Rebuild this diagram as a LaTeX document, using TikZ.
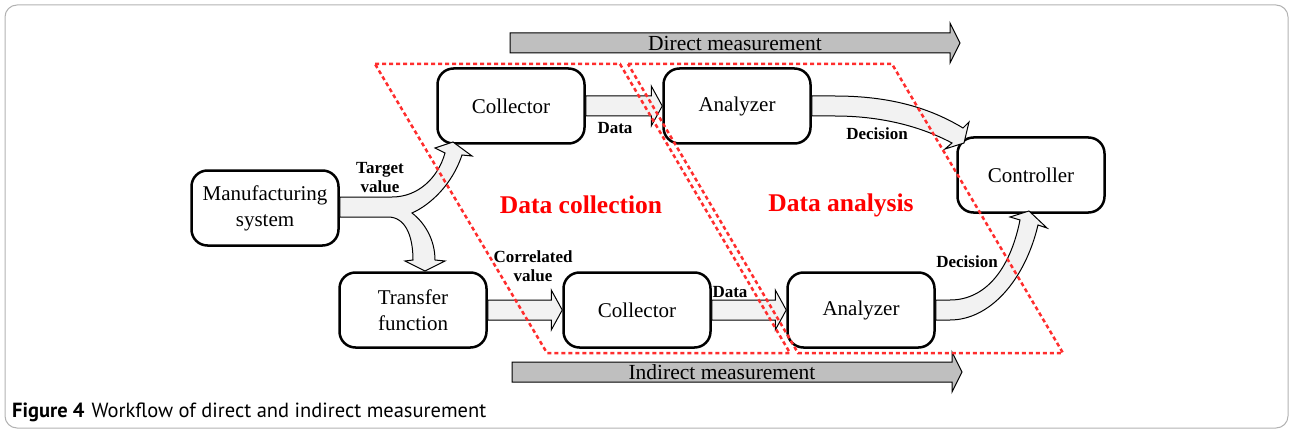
\documentclass[tikz,border=0pt]{standalone}
\usepackage{fontspec}
\setmainfont{Liberation Serif}
\newfontfamily\capfont{PT Sans}
\usetikzlibrary{calc}
\definecolor{dred}{RGB}{255,45,45}
\definecolor{afill}{RGB}{242,242,242}
\definecolor{mgray}{RGB}{191,191,191}
\tikzset{
  box/.style={draw, line width=2.5pt, rounded corners=16pt, minimum width=147pt, minimum height=75pt, align=center, font=\fontsize{21}{26}\selectfont, inner sep=0pt},
  barrow/.style={draw, line width=1pt, fill=afill, line join=miter},
  garrow/.style={draw, line width=1pt, fill=mgray},
  lab/.style={font=\bfseries\fontsize{17}{19}\selectfont, align=center, inner sep=0pt},
  zone/.style={draw=dred, line width=2.5pt, dash pattern=on 4pt off 3pt},
  zlab/.style={text=red, font=\bfseries\fontsize{25.5}{28}\selectfont, inner sep=0pt},
  mlab/.style={font=\fontsize{21.5}{23}\selectfont, inner sep=0pt}
}
\begin{document}
\begin{tikzpicture}[x=1pt,y=-1pt]
\useasboundingbox (0,0) rectangle (1290,433);
\draw[gray!60, line width=1pt, rounded corners=12pt] (5,5) rectangle (1288,428);

% measurement arrows
\draw[garrow] (510,33) -- (950,33) -- (950,23) -- (960,43) -- (950,63) -- (950,53) -- (510,53) -- cycle;
\node[mlab] (dm) at (735,43) {Direct measurement};
\draw[garrow] (512,362) -- (952,362) -- (952,352) -- (962,372) -- (952,392) -- (952,382) -- (512,382) -- cycle;
\node[mlab] (im) at (722,372) {Indirect measurement};

% boxes
\node[box] (m) at (265,208) {Manufacturing\\system};
\node[box] (c1) at (511,106) {Collector};
\node[box] (a1) at (737,106) {Analyzer};
\node[box] (ct) at (1031,175) {Controller};
\node[box] (tf) at (413,310) {Transfer\\function};
\node[box] (c2) at (637,310) {Collector};
\node[box] (a2) at (861,310) {Analyzer};

% straight block arrows
\draw[barrow] ($(c1.east)+(0,-10)$) -- ($(a1.west)+(-11,-10)$) -- ($(a1.west)+(-11,-20)$) -- (a1.west) -- ($(a1.west)+(-11,20)$) -- ($(a1.west)+(-11,10)$) -- ($(c1.east)+(0,10)$) -- cycle;
\draw[barrow] ($(tf.east)+(0,-10)$) -- ($(c2.west)+(-11,-10)$) -- ($(c2.west)+(-11,-20)$) -- (c2.west) -- ($(c2.west)+(-11,20)$) -- ($(c2.west)+(-11,10)$) -- ($(tf.east)+(0,10)$) -- cycle;
\draw[barrow] ($(c2.east)+(0,-10)$) -- ($(a2.west)+(-11,-10)$) -- ($(a2.west)+(-11,-20)$) -- (a2.west) -- ($(a2.west)+(-11,20)$) -- ($(a2.west)+(-11,10)$) -- ($(c2.east)+(0,10)$) -- cycle;

% split arrow from manufacturing system
\draw[barrow] ($(m.east)+(0,-11)$) -- (392,197) .. controls (418,197) and (438,178) .. (445,153) -- (435,148) -- (453,142) -- (472,156) -- (462,155) .. controls (452,185) and (430,205) .. (412,213) .. controls (425,223) and (435,240) .. (435,260) -- (445,261) -- (425,271) -- (405,261) -- (413,260) .. controls (413,235) and (405,217) .. (388,217) -- ($(m.east)+(0,9)$) -- cycle;

% analyzer -> controller curved arrows
\draw[barrow] ($(a1.east)+(0,-10)$) -- (835,96) .. controls (890,96) and (930,108) .. (963,128) -- (969,122) -- (964,143) -- (945,149) -- (952,143) .. controls (920,126) and (880,116) .. (835,116) -- ($(a1.east)+(0,10)$) -- cycle;
\draw[barrow] ($(a2.east)+(0,-10)$) -- (950,300) .. controls (985,300) and (1010,270) .. (1020,220) -- (1010,217) -- (1029,211) -- (1047,228) -- (1038,225) .. controls (1025,280) and (990,320) .. (950,320) -- ($(a2.east)+(0,10)$) -- cycle;

% zones
\draw[zone] (375,64) -- (620,64) -- (790,353) -- (547,353) -- cycle;
\draw[zone] (628,64) -- (892,64) -- (1063,353) -- (798,353) -- cycle;
\node[zlab] (zc) at (581,205) {Data collection};
\node[zlab] (za) at (841,205) {Data analysis};

% labels
\node[lab] (l1) at (380,178) {Target\\value};
\node[lab] (l2) at (533,266) {Correlated\\value};
\node[lab] (l3) at (615,128) {Data};
\node[lab] (l4) at (730,292) {Data};
\node[lab] (l5) at (877,134) {Decision};
\node[lab] (l6) at (967,262) {Decision};

% caption
\node[anchor=base west, inner sep=0pt, font=\capfont\fontsize{20.5}{23}\selectfont] (cap) at (12,417) {\textbf{Figure 4}\hspace{7pt}Workflow of direct and indirect measurement};
\end{tikzpicture}
\end{document}
